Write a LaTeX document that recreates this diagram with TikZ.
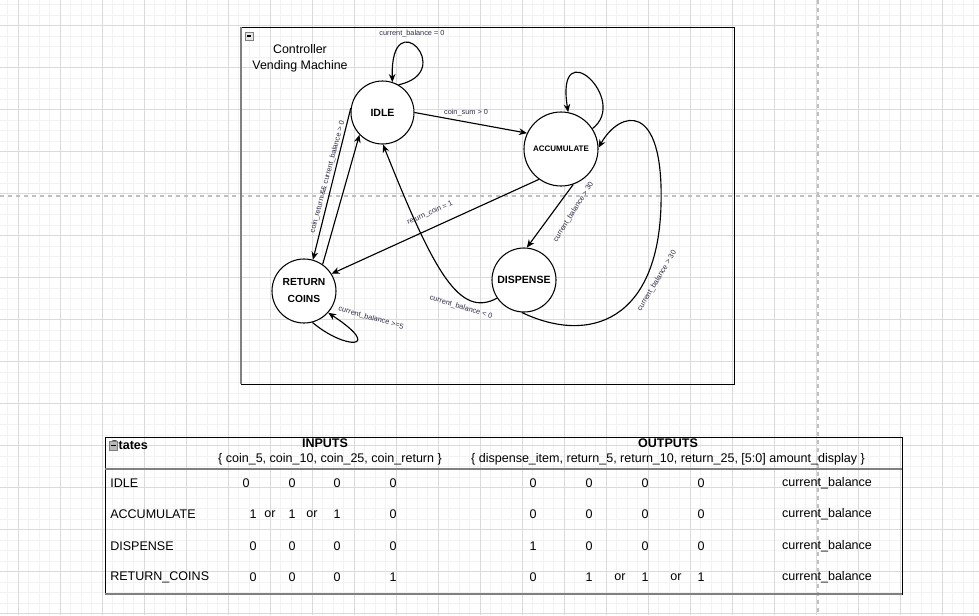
\documentclass[tikz,border=0pt]{standalone}
\usepackage{fontspec}
\setmainfont{Liberation Sans}
\usetikzlibrary{arrows.meta}
\definecolor{gridmajor}{RGB}{218,218,218}
\definecolor{gridminor}{RGB}{242,242,242}
\definecolor{pagebreak}{RGB}{192,192,192}
\definecolor{lbltext}{RGB}{45,45,70}

\begin{document}
\begin{tikzpicture}[x=0.75pt, y=-0.75pt, >={Stealth[length=6pt,width=5pt]},
    fsmstate/.style={draw, circle, line width=0.8pt, fill=white, inner sep=0pt,
        font=\bfseries\fontsize{7.9}{9}\selectfont},
    edgelabel/.style={text=lbltext, inner sep=0pt, font=\fontsize{5.5}{6.5}\selectfont},
    cell/.style={inner sep=0pt, font=\fontsize{9.4}{11}\selectfont},
    lane/.style={line width=0.85pt}]
    \useasboundingbox (0,0) rectangle (979,615);
    \fill[white] (0,0) rectangle (979,615);

    % the background grid (minor, then major lines)
    \foreach \gx in {0,...,92}
    \draw[gridminor, line width=0.6pt] (7.8+\gx*10.5,0) -- +(0,615);
    \foreach \gy in {0,...,58}
    \draw[gridminor, line width=0.6pt] (0,4.7+\gy*10.5) -- +(979,0);
    \foreach \gx in {0,...,23}
    \draw[gridmajor, line width=0.7pt] (18.3+\gx*42,0) -- +(0,615);
    \foreach \gy in {0,...,14}
    \draw[gridmajor, line width=0.7pt] (0,25.7+\gy*42) -- +(979,0);
    % the page break lines
    \draw[pagebreak, dashed, line width=0.8pt] (0,196) -- (979,196);
    \draw[pagebreak, dashed, line width=0.8pt] (818,0) -- (818,615);

    % the frame of the controller
    \draw[line width=0.75pt] (241,27) rectangle (734,384);
    \draw[gray, line width=1.2pt] (241,27) -- (241,384);
    % the collapse box of the frame
    \draw[gray, fill=gray!20] (245,32) rectangle (253,40);
    \draw[line width=0.8pt] (247,36) -- (251,36);
    % the title of the frame
    \node[font=\fontsize{9.3}{12}\selectfont, align=center, inner sep=0pt] (title)
        at (300,58) {Controller\\Vending Machine};

    % the states
    \node[fsmstate, minimum size=47.25pt] (idle) at (382.5,112.5) {IDLE};
    \node[fsmstate, minimum size=55.5pt, font=\bfseries\fontsize{6}{7}\selectfont]
        (accum) at (561,149) {ACCUMULATE};
    \node[fsmstate, minimum size=48pt] (disp) at (524,280) {DISPENSE};
    \node[fsmstate, minimum size=48pt, align=center,
        font=\bfseries\fontsize{7.7}{12.75}\selectfont] (rc) at (304,291) {RETURN\\COINS};

    % IDLE -> IDLE
    \draw[->, lane] (idle.60) .. controls (458,72) and (390,0) .. (idle.72);
    \node[edgelabel] (lblidle) at (412,34) {current\_balance = 0};
    % IDLE -> ACCUMULATE
    \draw[->, lane] (idle.0) -- (accum.155);
    \node[edgelabel] (lblsum) at (466,113) {coin\_sum > 0};
    % ACCUMULATE -> ACCUMULATE
    \draw[->, lane] (accum.33) .. controls (630,100) and (555,30) .. (accum.79);
    % ACCUMULATE -> DISPENSE
    \draw[->, lane] (accum.-71) -- (disp.85);
    \node[edgelabel, rotate=58] (lbldisp) at (573.5,212) {current\_balance > 30};
    % ACCUMULATE -> RETURN COINS
    \draw[->, lane] (accum.-126) -- (rc.32);
    \node[edgelabel, rotate=24] (lblret) at (430,213) {return\_coin = 1};
    % IDLE -> RETURN COINS
    \draw[->, lane] (idle.172) -- (rc.74);
    \node[edgelabel, rotate=75] (lblcoinret) at (327.5,177)
        {coin\_return \&\& current\_balance > 0};
    % RETURN COINS -> IDLE
    \draw[->, lane] (rc.55) -- (idle.224);
    % RETURN COINS -> RETURN COINS
    \draw[->, lane] (rc.-75) .. controls (345,350) and (385,350) .. (rc.-42);
    \node[edgelabel, rotate=-16] (lblrc) at (371,318) {current\_balance >=5};
    % DISPENSE -> IDLE
    \draw[->, lane] (disp.214) .. controls (460,318) and (435,275) .. (idle.-89);
    \node[edgelabel, rotate=-17] (lblneg) at (461,307) {current\_balance < 0};
    % DISPENSE -> ACCUMULATE
    \draw[->, lane] (disp.266) .. controls (590,345) and (658,320) .. (661,205)
        .. controls (664,100) and (620,110) .. (accum.2);
    \node[edgelabel, rotate=59] (lblback) at (657,281) {current\_balance > 30};

    % the rectangle of the table
    \draw[line width=0.75pt] (105,437) rectangle (902,594);
    \draw[gray, line width=1.5pt] (105,469) -- (902,469);
    \draw[gray, line width=1.5pt] (105,594) -- (902,594);
    % the header of the table
    \node[cell, anchor=west, font=\bfseries\fontsize{9.4}{11}\selectfont] (hdstates)
        at (110,445) {States};
    \draw[gray, fill=gray!55] (109,441) rectangle (117,450);
    \draw[line width=0.8pt] (110.5,445.5) -- (115.5,445.5);
    \node[cell, font=\bfseries\fontsize{9.4}{11}\selectfont] (hdin) at (325,443) {INPUTS};
    \node[cell] (hdinlist) at (330,459) {\{ coin\_5, coin\_10, coin\_25, coin\_return \}};
    \node[cell, font=\bfseries\fontsize{9.4}{11}\selectfont] (hdout) at (668,443) {OUTPUTS};
    \node[cell] (hdoutlist) at (668,459)
        {\{ dispense\_item, return\_5, return\_10, return\_25, [5:0] amount\_display \}};

    % the names of the states
    \foreach \name/\yy in {IDLE/483, ACCUMULATE/514, DISPENSE/546, RETURN\_COINS/577}
    \node[cell, anchor=west] (row-\yy) at (110,\yy) {\name};

    % the values of the rows
    \foreach \yy/\vals in {
        483/{246/0,292/0,337/0,393/0,533/0,589/0,645/0,701/0},
        514/{253/1,270/or,292/1,312/or,337/1,393/0,533/0,589/0,645/0,701/0},
        546/{253/0,292/0,337/0,393/0,533/1,589/0,645/0,701/0},
        577/{253/0,292/0,337/0,393/1,533/0,589/1,620/or,645/1,676/or,701/1}}
    {
        \foreach \xx/\v in \vals
        \node[cell] (val-\yy-\xx) at (\xx,\yy) {\v};
        \node[cell] (bal-\yy) at (827,\yy) {current\_balance};
    }
\end{tikzpicture}
\end{document}
